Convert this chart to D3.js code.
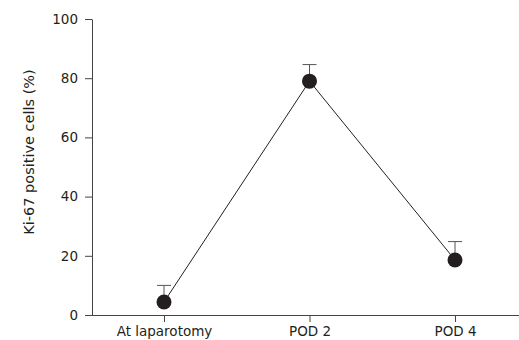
<!DOCTYPE html>
<html>
<head>
<script src="https://cdnjs.cloudflare.com/ajax/libs/d3/7.8.5/d3.min.js"></script>
<style>
  body { margin:0; background:#fff; }
  text { font-family: "DejaVu Sans", Verdana, sans-serif; fill:#231f20; }
</style>
</head>
<body>
<div id="chart"></div>
<script>
// values
var groups = ['At laparotomy', 'POD 2', 'POD 4'];
var means = [4.4, 79, 18.6];
var errs = [5.6, 5.6, 6.2];
var yTicks = [0, 20, 40, 60, 80, 100];

var svg = d3.select('#chart').append('svg')
    .attr('width', 519)
    .attr('height', 340);

var y = d3.scaleLinear().domain([0, 100]).range([315, 19]);
var x = d3.scalePoint().domain(groups).range([164, 455]);

// y axis
var yAxis = svg.append('g')
    .attr('transform', 'translate(92,0)')
    .call(d3.axisLeft(y).tickValues(yTicks).tickSize(7).tickPadding(7).tickSizeOuter(0));

// x axis line spans to the right edge
var xAxis = svg.append('g')
    .attr('transform', 'translate(0,315)')
    .call(d3.axisBottom(x).tickSize(7).tickPadding(4).tickSizeOuter(0));
xAxis.select('.domain').attr('d', 'M85,0.5H519');

svg.selectAll('.domain, .tick line').attr('stroke', '#444').attr('stroke-width', 1);
svg.selectAll('.tick text').style('font-size', '13.5px').attr('fill', '#231f20')
    .style('font-family', '"DejaVu Sans", Verdana, sans-serif');

svg.append('text')
    .attr('transform', 'translate(34,152) rotate(-90)')
    .attr('text-anchor', 'middle')
    .style('font-size', '14.5px')
    .text('Ki-67 positive cells (%)');

// connecting line
var line = d3.line()
    .x(function(d, i) { return x(groups[i]); })
    .y(function(d) { return y(d); });
svg.append('path')
    .datum(means)
    .attr('d', line)
    .attr('fill', 'none')
    .attr('stroke', '#231f20')
    .attr('stroke-width', 1);

// error bars (upper only)
var eb = svg.selectAll('.err').data(means).enter().append('g').attr('class', 'err');
eb.append('line')
    .attr('x1', function(d, i) { return x(groups[i]); })
    .attr('x2', function(d, i) { return x(groups[i]); })
    .attr('y1', function(d) { return y(d); })
    .attr('y2', function(d, i) { return y(d + errs[i]); })
    .attr('stroke', '#555');
eb.append('line')
    .attr('x1', function(d, i) { return x(groups[i]) - 7; })
    .attr('x2', function(d, i) { return x(groups[i]) + 7; })
    .attr('y1', function(d, i) { return y(d + errs[i]); })
    .attr('y2', function(d, i) { return y(d + errs[i]); })
    .attr('stroke', '#555');

svg.selectAll('circle').data(means).enter().append('circle')
    .attr('cx', function(d, i) { return x(groups[i]); })
    .attr('cy', function(d) { return y(d); })
    .attr('r', 7.5)
    .attr('fill', '#231f20');
</script>
</body>
</html>
